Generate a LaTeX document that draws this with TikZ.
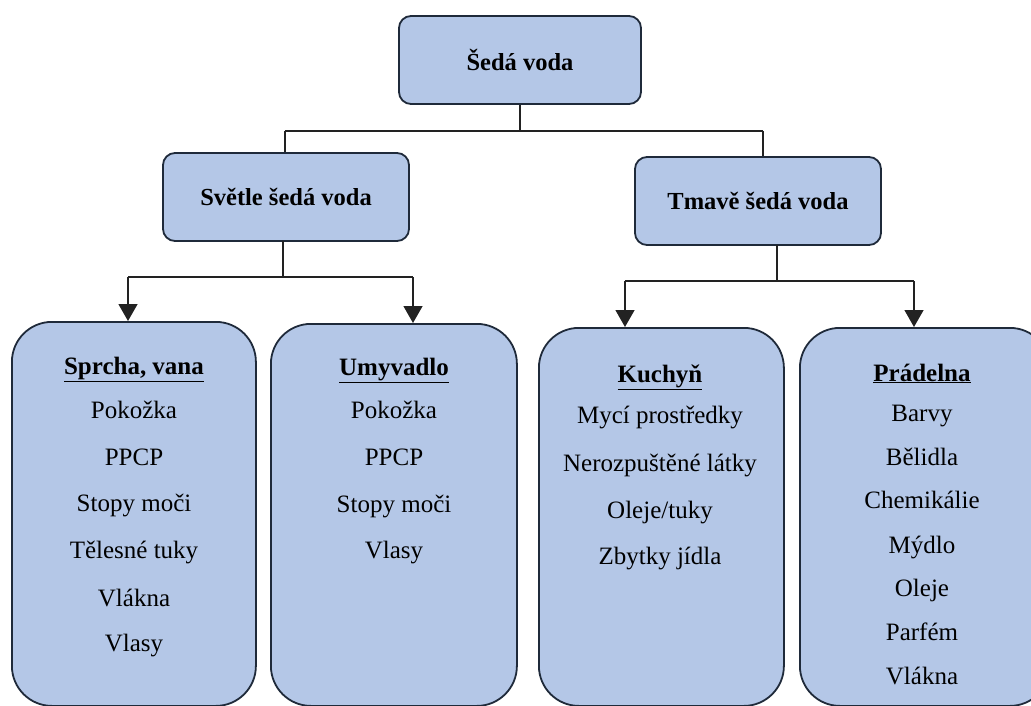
\documentclass[tikz,border=0pt]{standalone}
\usepackage{fontspec}
\setmainfont{Liberation Serif}
\usetikzlibrary{arrows.meta,calc}
\definecolor{boxfill}{HTML}{B4C7E7}
\definecolor{boxline}{HTML}{1F2A3A}
\definecolor{conline}{HTML}{222222}
\tikzset{
  boxstyle/.style={draw=boxline, line width=1.8pt, fill=boxfill, rectangle, inner sep=0pt},
  topbox/.style={boxstyle, rounded corners=12pt, minimum width=#1, minimum height=88pt},
  listbox/.style={boxstyle, rounded corners=40pt, anchor=north west},
  conn/.style={draw=conline, line width=1.4pt},
  arr/.style={conn, -{Triangle[width=19pt,length=17pt]}},
  lbl/.style={font=\fontsize{24.5}{29}\selectfont\bfseries, inner sep=0pt},
  item/.style={font=\fontsize{25}{29}\selectfont, inner sep=0pt, anchor=base},
  head/.style={item, font=\fontsize{25}{29}\selectfont\bfseries},
}
\begin{document}
\begin{tikzpicture}[x=1pt,y=-1pt]
\useasboundingbox (0,0) rectangle (1031,706);
% top level
\node[topbox=242pt] (root) at (520,60) {};
\node[lbl] (rootl) at (520,60) {Šedá voda};
\node[topbox=246pt] (light) at (286,197) {};
\node[lbl] (lightl) at (286,197) {Světle šedá voda};
\node[topbox=246pt] (dark) at (758,201) {};
\node[lbl] (darkl) at (758,201) {Tmavě šedá voda};
% bottom boxes
\node[listbox, minimum width=244pt, minimum height=384pt] (b1) at (11,321) {};
\node[listbox, minimum width=246pt, minimum height=382pt] (b2) at (270,323) {};
\node[listbox, minimum width=245pt, minimum height=378pt] (b3) at (538,327) {};
\node[listbox, minimum width=250pt, minimum height=378pt] (b4) at (799,327) {};
% connectors
\coordinate (j0) at (520,131);
\coordinate (jl) at (285,131);
\coordinate (jr) at (763,131);
\draw[conn] (root.south) -- (j0);
\draw[conn] (jl) -- (jr);
\draw[conn] (jl) -- (jl |- light.north);
\draw[conn] (jr) -- (jr |- dark.north);
\coordinate (ls) at (283,241);
\coordinate (lj) at (283,277);
\coordinate (la) at (128,277);
\coordinate (lb) at (413,277);
\draw[conn] (ls) -- (lj);
\draw[conn] (la) -- (lb);
\draw[arr] (la) -- (la |- b1.north);
\draw[arr] (lb) -- (lb |- b2.north);
\coordinate (ds) at (777,245);
\coordinate (dj) at (777,281);
\coordinate (da) at (625,281);
\coordinate (db) at (914,281);
\draw[conn] (ds) -- (dj);
\draw[conn] (da) -- (db);
\draw[arr] (da) -- (da |- b3.north);
\draw[arr] (db) -- (db |- b4.north);
% box texts
\node[head] (h1) at (134,374) {\underline{Sprcha, vana}};
\foreach \y/\t [count=\i] in {410/Pokožka, 457/PPCP, 503/Stopy moči, 550/Tělesné tuky, 598/Vlákna, 643/Vlasy}
  \node[item] (b1i\i) at (134,\y+8) {\t};
\node[head] (h2) at (394,375) {\underline{Umyvadlo}};
\foreach \y/\t [count=\i] in {410/Pokožka, 457/PPCP, 504/Stopy moči, 550/Vlasy}
  \node[item] (b2i\i) at (394,\y+8) {\t};
\node[head] (h3) at (660,382) {\underline{Kuchyň}};
\foreach \y/\t [count=\i] in {415/Mycí prostředky, 463/Nerozpuštěné látky, 510/{Oleje/tuky}, 556/Zbytky jídla}
  \node[item] (b3i\i) at (660,\y+8) {\t};
\node[head] (h4) at (922,381) {\underline{Prádelna}};
\foreach \y/\t [count=\i] in {413/Barvy, 457/Bělidla, 500/Chemikálie, 545/Mýdlo, 588/Oleje, 632/Parfém, 676/Vlákna}
  \node[item] (b4i\i) at (922,\y+8) {\t};
\end{tikzpicture}
\end{document}
